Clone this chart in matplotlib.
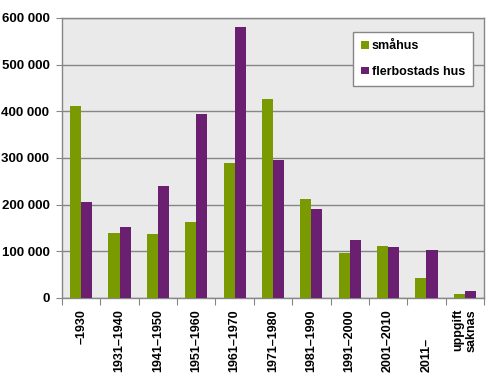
import matplotlib
matplotlib.use("Agg")
import matplotlib.pyplot as plt
import numpy as np
from matplotlib.ticker import FuncFormatter, MultipleLocator
import matplotlib.transforms as mtransforms

categories = ["–1930", "1931–1940", "1941–1950", "1951–1960", "1961–1970",
              "1971–1980", "1981–1990", "1991–2000", "2001–2010", "2011–",
              "uppgift\nsaknas"]
smahus = [412000, 139000, 137000, 163000, 289000, 427000, 212000, 96000,
          111000, 42000, 8000]
flerbostadshus = [206000, 152000, 240000, 395000, 581000, 296000, 191000,
                  124000, 109000, 102000, 14000]
series_names = ["småhus", "flerbostads hus"]

GREEN = "#7A9A01"
PURPLE = "#6B1F71"
GRID = "#868686"

plt.rcParams['font.family'] = ['Liberation Sans', 'DejaVu Sans']

fig = plt.figure(figsize=(4.92, 3.78), dpi=100)
ax = fig.add_axes([62/492, 1 - 298/378, 422/492, 280/378])
ax.set_facecolor("#EAEAEA")

x = np.arange(len(categories))
w = 0.29
ax.bar(x - w/2, smahus, w, color=GREEN, label=series_names[0], zorder=3)
ax.bar(x + w/2, flerbostadshus, w, color=PURPLE, label=series_names[1], zorder=3)

ax.set_xlim(-0.5, len(categories) - 0.5)
ax.set_ylim(0, 600000)
ax.yaxis.set_major_locator(MultipleLocator(100000))
ax.yaxis.set_major_formatter(FuncFormatter(lambda v, p: f"{int(v):,}".replace(",", " ")))
ax.grid(axis='y', color=GRID, linewidth=1.0, zorder=1)
ax.set_axisbelow(True)

for s in ax.spines.values():
    s.set_color(GRID)
    s.set_linewidth(1.0)

ax.tick_params(axis='y', length=4, color=GRID, pad=5, labelsize=9.5)
for lbl in ax.get_yticklabels():
    lbl.set_fontweight('bold')

# x ticks at category boundaries, labels drawn as text
ax.set_xticks(np.arange(-0.5, len(categories)))
ax.set_xticklabels([])
ax.tick_params(axis='x', length=5, color=GRID)

trans = mtransforms.blended_transform_factory(ax.transData, fig.transFigure)
for i, lab in enumerate(categories):
    if lab == "2011–":
        ax.text(i, 6/378, lab, transform=trans, rotation=90, ha='center',
                va='bottom', fontsize=9, fontweight='bold')
    else:
        ax.text(i, 1 - 309/378, lab, transform=trans, rotation=90, ha='center',
                va='top', fontsize=9, fontweight='bold', multialignment='right',
                linespacing=1.15)

leg = ax.legend(loc='upper left', bbox_to_anchor=(0.69, 0.95), borderaxespad=0,
                frameon=True, fancybox=False, framealpha=1, edgecolor=GRID,
                prop={'weight': 'bold', 'size': 9}, handlelength=0.6,
                handleheight=0.6, handletextpad=0.25, labelspacing=1.1,
                borderpad=0.65)
leg.get_frame().set_linewidth(1.0)

fig.savefig("out.png", dpi=100, facecolor='white')
